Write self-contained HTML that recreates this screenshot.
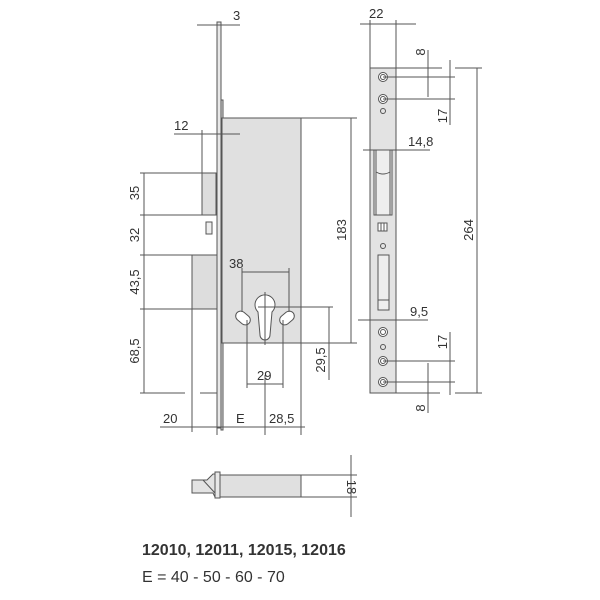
<!DOCTYPE html>
<html><head><style>body{margin:0;background:#fff}svg{display:block}text{font-family:"Liberation Sans",sans-serif;fill:#333}</style></head><body>
<svg width="600" height="600" viewBox="0 0 600 600" xmlns="http://www.w3.org/2000/svg">
<g stroke="#555" stroke-width="1" fill="none">
<rect x="217" y="22" width="4" height="406" fill="#e8e8e8"/>
<rect x="221" y="100" width="2" height="330" fill="#ddd"/>
<rect x="222" y="118" width="79" height="225" fill="#e0e0e0"/>
<rect x="202" y="173" width="14" height="42" fill="#ddd"/>
<rect x="206" y="222" width="6" height="12" fill="#eee"/>
<rect x="192" y="255" width="25" height="54" fill="#ddd"/>
<path d="M258,312 A10,10 0 1 1 272,312 L270,335 A5,5 0 0 1 260,335 Z" fill="#fff"/>
<g transform="rotate(40 243 318)"><rect x="235" y="313" width="16" height="10" rx="5" fill="#fff"/></g>
<g transform="rotate(-40 287 318)"><rect x="279" y="313" width="16" height="10" rx="5" fill="#fff"/></g>
<line x1="144" y1="173" x2="144" y2="393"/>
<line x1="140" y1="173" x2="202" y2="173"/><line x1="140" y1="215" x2="202" y2="215"/>
<line x1="140" y1="255" x2="192" y2="255"/><line x1="140" y1="309" x2="192" y2="309"/>
<line x1="140" y1="393" x2="185" y2="393"/><line x1="200" y1="393" x2="217" y2="393"/>
<line x1="192" y1="309" x2="192" y2="432"/>
<line x1="217" y1="400" x2="217" y2="435"/><line x1="265" y1="375" x2="265" y2="435"/><line x1="301" y1="343" x2="301" y2="435"/>
<line x1="160" y1="427" x2="305" y2="427"/>
<line x1="197" y1="25" x2="240" y2="25"/><line x1="174" y1="134" x2="240" y2="134"/><line x1="202" y1="130" x2="202" y2="173"/>
<line x1="301" y1="118" x2="357" y2="118"/><line x1="301" y1="343" x2="357" y2="343"/>
<line x1="351" y1="118" x2="351" y2="343"/>
<line x1="242" y1="268" x2="242" y2="312"/><line x1="289" y1="268" x2="289" y2="312"/><line x1="242" y1="272" x2="289" y2="272"/>
<line x1="247" y1="320" x2="247" y2="388"/><line x1="283" y1="320" x2="283" y2="388"/><line x1="247" y1="384" x2="283" y2="384"/>
<line x1="265" y1="292" x2="265" y2="345"/><line x1="258" y1="307" x2="333" y2="307"/><line x1="329" y1="307" x2="329" y2="380"/>
<rect x="370" y="68" width="26" height="325" fill="#e3e3e3"/>
<rect x="374" y="150" width="18" height="65" fill="#eee"/>
<line x1="376" y1="150" x2="376" y2="215"/><line x1="390" y1="150" x2="390" y2="215"/>
<path d="M376,172 Q383,176 390,172"/>
<rect x="378" y="223" width="9" height="8" fill="#fff"/><line x1="381" y1="223" x2="381" y2="231"/><line x1="384" y1="223" x2="384" y2="231"/>
<circle cx="383" cy="111" r="2.5"/><circle cx="383" cy="246" r="2.5"/><circle cx="383" cy="347" r="2.5"/>
<rect x="378" y="255" width="11" height="55" fill="#eee"/><line x1="378" y1="300" x2="389" y2="300"/>
<g fill="#fff"><circle cx="383" cy="77" r="4.5"/><circle cx="383" cy="99" r="4.5"/><circle cx="383" cy="332" r="4.5"/><circle cx="383" cy="361" r="4.5"/><circle cx="383" cy="382" r="4.5"/></g>
<g><circle cx="383" cy="77" r="2.5"/><circle cx="383" cy="99" r="2.5"/><circle cx="383" cy="332" r="2.5"/><circle cx="383" cy="361" r="2.5"/><circle cx="383" cy="382" r="2.5"/></g>
<line x1="360" y1="24" x2="416" y2="24"/><line x1="370" y1="20" x2="370" y2="68"/><line x1="396" y1="20" x2="396" y2="68"/>
<line x1="363" y1="150" x2="430" y2="150"/><line x1="358" y1="320" x2="428" y2="320"/>
<line x1="383" y1="68" x2="442" y2="68"/><line x1="383" y1="77" x2="455" y2="77"/><line x1="383" y1="99" x2="455" y2="99"/>
<line x1="428" y1="50" x2="428" y2="97"/><line x1="450" y1="60" x2="450" y2="125"/>
<line x1="455" y1="68" x2="482" y2="68"/><line x1="455" y1="393" x2="482" y2="393"/><line x1="477" y1="68" x2="477" y2="393"/>
<line x1="383" y1="361" x2="455" y2="361"/><line x1="383" y1="382" x2="455" y2="382"/><line x1="396" y1="393" x2="440" y2="393"/>
<line x1="450" y1="332" x2="450" y2="395"/><line x1="428" y1="363" x2="428" y2="413"/>
<path d="M192,480 L207,480 L213,474 L215,474 L215,497 L213,493 L192,493 Z" fill="#e3e3e3"/>
<line x1="203" y1="480" x2="215" y2="493"/>
<rect x="215" y="472" width="5" height="26" fill="#e8e8e8"/>
<rect x="220" y="475" width="81" height="22" fill="#e0e0e0"/>
<line x1="301" y1="475" x2="357" y2="475"/><line x1="301" y1="497" x2="357" y2="497"/><line x1="351" y1="455" x2="351" y2="517"/>
</g>
<g fill="#333" font-size="13">
<text x="233" y="20">3</text><text x="174" y="130">12</text><text x="229" y="268">38</text>
<text x="257" y="380">29</text><text x="163" y="423">20</text><text x="236" y="423">E</text><text x="269" y="423">28,5</text>
<text x="369" y="18">22</text><text x="408" y="146">14,8</text><text x="410" y="316">9,5</text>
<text transform="translate(139,193) rotate(-90)" text-anchor="middle">35</text>
<text transform="translate(139,235) rotate(-90)" text-anchor="middle">32</text>
<text transform="translate(139,282) rotate(-90)" text-anchor="middle">43,5</text>
<text transform="translate(139,351) rotate(-90)" text-anchor="middle">68,5</text>
<text transform="translate(346,230) rotate(-90)" text-anchor="middle">183</text>
<text transform="translate(325,360) rotate(-90)" text-anchor="middle">29,5</text>
<text transform="translate(425,52) rotate(-90)" text-anchor="middle">8</text>
<text transform="translate(447,116) rotate(-90)" text-anchor="middle">17</text>
<text transform="translate(473,230) rotate(-90)" text-anchor="middle">264</text>
<text transform="translate(447,342) rotate(-90)" text-anchor="middle">17</text>
<text transform="translate(425,408) rotate(-90)" text-anchor="middle">8</text>
<text transform="translate(347,487) rotate(90)" text-anchor="middle">18</text>
</g>
<text x="142" y="555" font-size="16" font-weight="bold" fill="#222">12010, 12011, 12015, 12016</text>
<text x="142" y="582" font-size="16" fill="#333">E = 40 - 50 - 60 - 70</text>
</svg>
</body></html>
